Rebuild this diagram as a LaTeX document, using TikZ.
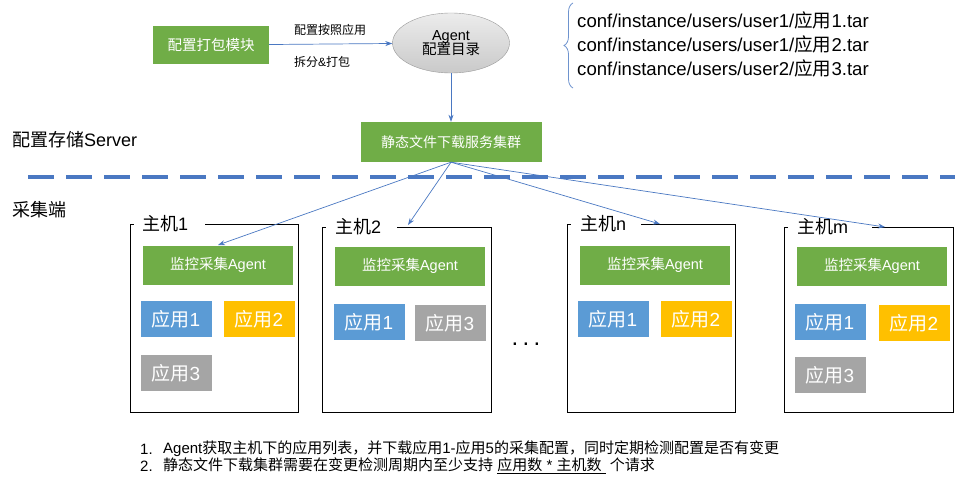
\documentclass[tikz,border=0pt]{standalone}
\usepackage{fontspec}
\setmainfont{Liberation Sans}
\newfontfamily\cjk{Noto Sans CJK SC}
\usetikzlibrary{arrows.meta,shapes.geometric,decorations.pathreplacing}
\definecolor{boxgreen}{HTML}{70AD47}
\definecolor{appblue}{HTML}{5B9BD5}
\definecolor{appyellow}{HTML}{FFC000}
\definecolor{appgray}{HTML}{A5A5A5}
\definecolor{linkblue}{HTML}{4A78C2}
\newcommand{\fs}[1]{\fontsize{#1}{#1}\selectfont}

\begin{document}
\begin{tikzpicture}[x=1pt,y=-1pt,
  greenbox/.style={fill=boxgreen, text=white, inner sep=0pt},
  agentbar/.style={greenbox, minimum width=150pt, minimum height=39pt, font=\fs{14.5}},
  appbox/.style={text=white, inner sep=0pt, minimum width=71pt, minimum height=36pt, font=\fs{19}},
  hostframe/.style={draw=black, line width=0.9pt},
  feed/.style={draw=linkblue, line width=0.7pt, -{Stealth[length=7pt,width=5pt]}},
]
\useasboundingbox (0,0) rectangle (974,487);

% top row: packing module -> agent config dir
\node[greenbox, minimum width=116pt, minimum height=38pt, font=\fs{14.5}] (pack) at (211,45) {\cjk 配置打包模块};
\node[ellipse, draw=gray!80, top color=gray!15, bottom color=gray!42, inner sep=0pt,
      minimum width=117pt, minimum height=60pt, align=center, font=\fs{14.5}] (agentdir) at (451,43) {Agent\\[-1pt]{\cjk 配置目录}};
\draw[feed] (pack) -- (agentdir);
\node[font=\fs{12}] (splitup) at (330,30) {\cjk 配置按照应用};
\node[font=\fs{12}] (splitdn) at (322,62) {{\cjk 拆分}\&{\cjk 打包}};

% file list
\draw[linkblue!80, line width=0.8pt, decorate, decoration={brace,amplitude=9pt}] (573,88) -- (573,3);
\node[anchor=west, font=\fs{18.6}, inner sep=0pt] (tar1) at (577,20) {conf/instance/users/user1/{\cjk 应用}1.tar};
\node[anchor=west, font=\fs{18.6}, inner sep=0pt] (tar2) at (577,44) {conf/instance/users/user1/{\cjk 应用}2.tar};
\node[anchor=west, font=\fs{18.6}, inner sep=0pt] (tar3) at (577,68) {conf/instance/users/user2/{\cjk 应用}3.tar};

% server side
\node[greenbox, minimum width=181pt, minimum height=40pt, font=\fs{14}] (srv) at (451,142) {\cjk 静态文件下载服务集群};
\draw[feed] (agentdir) -- (srv);
\node[anchor=west, font=\fs{18}, inner sep=0pt] (srvlabel) at (12,140) {{\cjk 配置存储}Server};
\draw[linkblue, line width=3.5pt, dash pattern=on 26pt off 12pt] (28,177) -- (955,177);
\node[anchor=west, font=\fs{18}, inner sep=0pt] (cltlabel) at (12,210) {\cjk 采集端};

% host 1
\draw[hostframe] (205,224) -- (298,224) -- (298,412) -- (130,412) -- (130,224) -- (134,224);
\node[anchor=west, font=\fs{18}, inner sep=0pt] (h1) at (142,224) {{\cjk 主机}1};
\node[agentbar] (agent1) at (218,265) {{\cjk 监控采集}Agent};
\node[appbox, fill=appblue] (h1a1) at (176,319) {{\cjk 应用}1};
\node[appbox, fill=appyellow] (h1a2) at (259,319) {{\cjk 应用}2};
\node[appbox, fill=appgray] (h1a3) at (176,373) {{\cjk 应用}3};

% host 2
\draw[hostframe] (397,227) -- (491,227) -- (491,412) -- (322,412) -- (322,227) -- (326,227);
\node[anchor=west, font=\fs{18}, inner sep=0pt] (h2) at (335,227) {{\cjk 主机}2};
\node[agentbar] (agent2) at (410,266) {{\cjk 监控采集}Agent};
\node[appbox, fill=appblue] (h2a1) at (369,322) {{\cjk 应用}1};
\node[appbox, fill=appgray] (h2a3) at (450,323) {{\cjk 应用}3};

% dots
\node[font=\fs{24}, inner sep=0pt] (more) at (526,344) {.\hspace{4.3pt}.\hspace{4.3pt}.};

% host n
\draw[hostframe] (641,224) -- (735,224) -- (735,412) -- (567,412) -- (567,224) -- (571,224);
\node[anchor=west, font=\fs{18}, inner sep=0pt] (hn) at (580,224) {{\cjk 主机}n};
\node[agentbar] (agentn) at (655,265) {{\cjk 监控采集}Agent};
\node[appbox, fill=appblue] (hna1) at (613,319) {{\cjk 应用}1};
\node[appbox, fill=appyellow] (hna2) at (696,319) {{\cjk 应用}2};

% host m
\draw[hostframe] (872,227) -- (953,227) -- (953,412) -- (784,412) -- (784,227) -- (788,227);
\node[anchor=west, font=\fs{18}, inner sep=0pt] (hm) at (797,227) {{\cjk 主机}m};
\node[agentbar] (agentm) at (872,266) {{\cjk 监控采集}Agent};
\node[appbox, fill=appblue] (hma1) at (830,322) {{\cjk 应用}1};
\node[appbox, fill=appyellow] (hma2) at (914,323) {{\cjk 应用}2};
\node[appbox, fill=appgray] (hma3) at (830,375) {{\cjk 应用}3};

% downloads
\coordinate (in1) at (218,245);
\coordinate (in2) at (408,225);
\coordinate (inn) at (660,224);
\coordinate (inm) at (885,227);
\draw[feed] (srv.south) -- (in1);
\draw[feed] (srv.south) -- (in2);
\draw[feed] (srv.south) -- (inn);
\draw[feed] (srv.south) -- (inm);

% notes
\node[anchor=west, font=\fs{15}, inner sep=0pt] (n1num) at (140,449) {1.};
\node[anchor=west, font=\fs{15}, inner sep=0pt] (n1) at (163,449) {Agent{\cjk 获取主机下的应用列表，并下载应用}1-{\cjk 应用}5{\cjk 的采集配置，同时定期检测配置是否有变更}};
\node[anchor=west, font=\fs{15}, inner sep=0pt] (n2num) at (140,466) {2.};
\node[anchor=west, font=\fs{15}, inner sep=0pt] (n2) at (163,466) {{\cjk 静态文件下载集群需要在变更检测周期内至少支持} \underline{{\cjk 应用数} * {\cjk 主机数}\ } {\cjk 个请求}};
\end{tikzpicture}
\end{document}
